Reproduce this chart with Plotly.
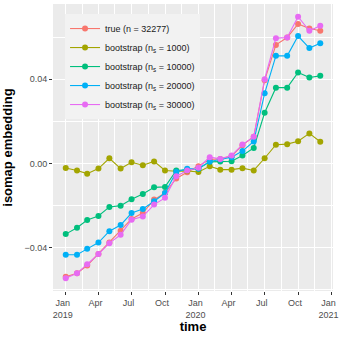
import plotly.graph_objects as go

months = ["2019-01-01", "2019-02-01", "2019-03-01", "2019-04-01", "2019-05-01", "2019-06-01",
          "2019-07-01", "2019-08-01", "2019-09-01", "2019-10-01", "2019-11-01", "2019-12-01",
          "2020-01-01", "2020-02-01", "2020-03-01", "2020-04-01", "2020-05-01", "2020-06-01",
          "2020-07-01", "2020-08-01", "2020-09-01", "2020-10-01", "2020-11-01", "2020-12-01"]

true_n32277 = [-0.0537, -0.0521, -0.0484, -0.0429, -0.0375, -0.0319, -0.0263, -0.0235,
               -0.0171, -0.0140, -0.0071, -0.0041, -0.0013, 0.0019, 0.0022, 0.0035,
               0.0087, 0.0127, 0.0395, 0.0563, 0.0598, 0.0662, 0.0641, 0.0630]
boot_1000 = [-0.0021, -0.0033, -0.0048, -0.0024, 0.0025, -0.0024, 0.0006, -0.0008,
             0.0010, -0.0033, -0.0037, -0.0035, -0.0040, -0.0013, -0.0029, -0.0029,
             -0.0022, -0.0033, 0.0025, 0.0089, 0.0092, 0.0106, 0.0143, 0.0103]
boot_10000 = [-0.0335, -0.0305, -0.0268, -0.0249, -0.0206, -0.0200, -0.0170, -0.0145,
              -0.0113, -0.0111, -0.0033, -0.0029, -0.0025, 0.0008, 0.0010, 0.0011,
              0.0038, 0.0074, 0.0241, 0.0360, 0.0360, 0.0432, 0.0408, 0.0416]
boot_20000 = [-0.0433, -0.0433, -0.0405, -0.0375, -0.0321, -0.0292, -0.0235, -0.0216,
              -0.0179, -0.0140, -0.0040, -0.0025, -0.0024, 0.0010, 0.0019, 0.0030,
              0.0059, 0.0105, 0.0333, 0.0511, 0.0511, 0.0605, 0.0548, 0.0571]
boot_30000 = [-0.0544, -0.0521, -0.0478, -0.0430, -0.0378, -0.0338, -0.0267, -0.0251,
              -0.0195, -0.0163, -0.0060, -0.0033, -0.0020, 0.0030, 0.0022, 0.0038,
              0.0090, 0.0127, 0.0400, 0.0595, 0.0598, 0.0697, 0.0630, 0.0654]

series_names = ["true (n = 32277)",
                "bootstrap (n<sub>s</sub> = 1000)",
                "bootstrap (n<sub>s</sub> = 10000)",
                "bootstrap (n<sub>s</sub> = 20000)",
                "bootstrap (n<sub>s</sub> = 30000)"]
series_vals = [true_n32277, boot_1000, boot_10000, boot_20000, boot_30000]
colors = ["#F8766D", "#A3A500", "#00BF7D", "#00B0F6", "#E76BF3"]

x_tickvals = ["2019-01-01", "2019-04-01", "2019-07-01", "2019-10-01", "2020-01-01",
              "2020-04-01", "2020-07-01", "2020-10-01", "2021-01-01"]
x_ticktext = ["Jan<br>2019", "Apr", "Jul", "Oct", "Jan<br>2020", "Apr", "Jul", "Oct", "Jan<br>2021"]
x_minor = ["2019-02-15", "2019-05-16", "2019-08-16", "2019-11-16", "2020-02-15",
           "2020-05-16", "2020-08-16", "2020-11-16"]
y_tickvals = [-0.04, 0.0, 0.04]
y_ticktext = ["\u22120.04", "0.00", "0.04"]
y_minor = [-0.06, -0.02, 0.02, 0.06]

fig = go.Figure()
for name, vals, col in zip(series_names, series_vals, colors):
    fig.add_trace(go.Scatter(x=months, y=vals, name=name, mode="lines+markers",
                             line=dict(color=col, width=1.1),
                             marker=dict(color=col, size=6)))

font = "Liberation Sans, Arial, sans-serif"
fig.update_layout(
    width=339, height=339,
    margin=dict(l=53, r=6, t=4, b=48),
    paper_bgcolor="white", plot_bgcolor="#EBEBEB",
    font=dict(family=font, size=9, color="#4D4D4D"),
    legend=dict(x=0.043, y=0.965, xanchor="left", yanchor="top",
                bgcolor="#F2F2F2", font=dict(size=9, color="#1A1A1A"),
                tracegroupgap=0, itemwidth=30),
    xaxis=dict(type="date", range=["2018-11-27", "2021-01-05"], automargin=False,
               tickvals=x_tickvals, ticktext=x_ticktext, ticklabeloverflow="allow",
               ticklabelshift=-3,
               showgrid=True, gridcolor="white", gridwidth=1,
               minor=dict(tickvals=x_minor, showgrid=True, gridcolor="white", gridwidth=0.5),
               ticks="outside", ticklen=3, tickcolor="#333333",
               zeroline=False, showline=False,
               title=dict(text="<b>time</b>", font=dict(size=13, color="black"), standoff=3)),
    yaxis=dict(range=[-0.0605, 0.0757], automargin=False,
               tickvals=y_tickvals, ticktext=y_ticktext,
               showgrid=True, gridcolor="white", gridwidth=1,
               minor=dict(tickvals=y_minor, showgrid=True, gridcolor="white", gridwidth=0.5),
               ticks="outside", ticklen=3, tickcolor="#333333",
               zeroline=False, showline=False,
               title=dict(text="<b>isomap embedding</b>", font=dict(size=13, color="black"), standoff=8)),
)

# drop the browser's default 8px body margin so the figure sits at the page corner
fig.write_html("out.html", config={"displayModeBar": False},
               post_script="document.body.style.margin='0';")
